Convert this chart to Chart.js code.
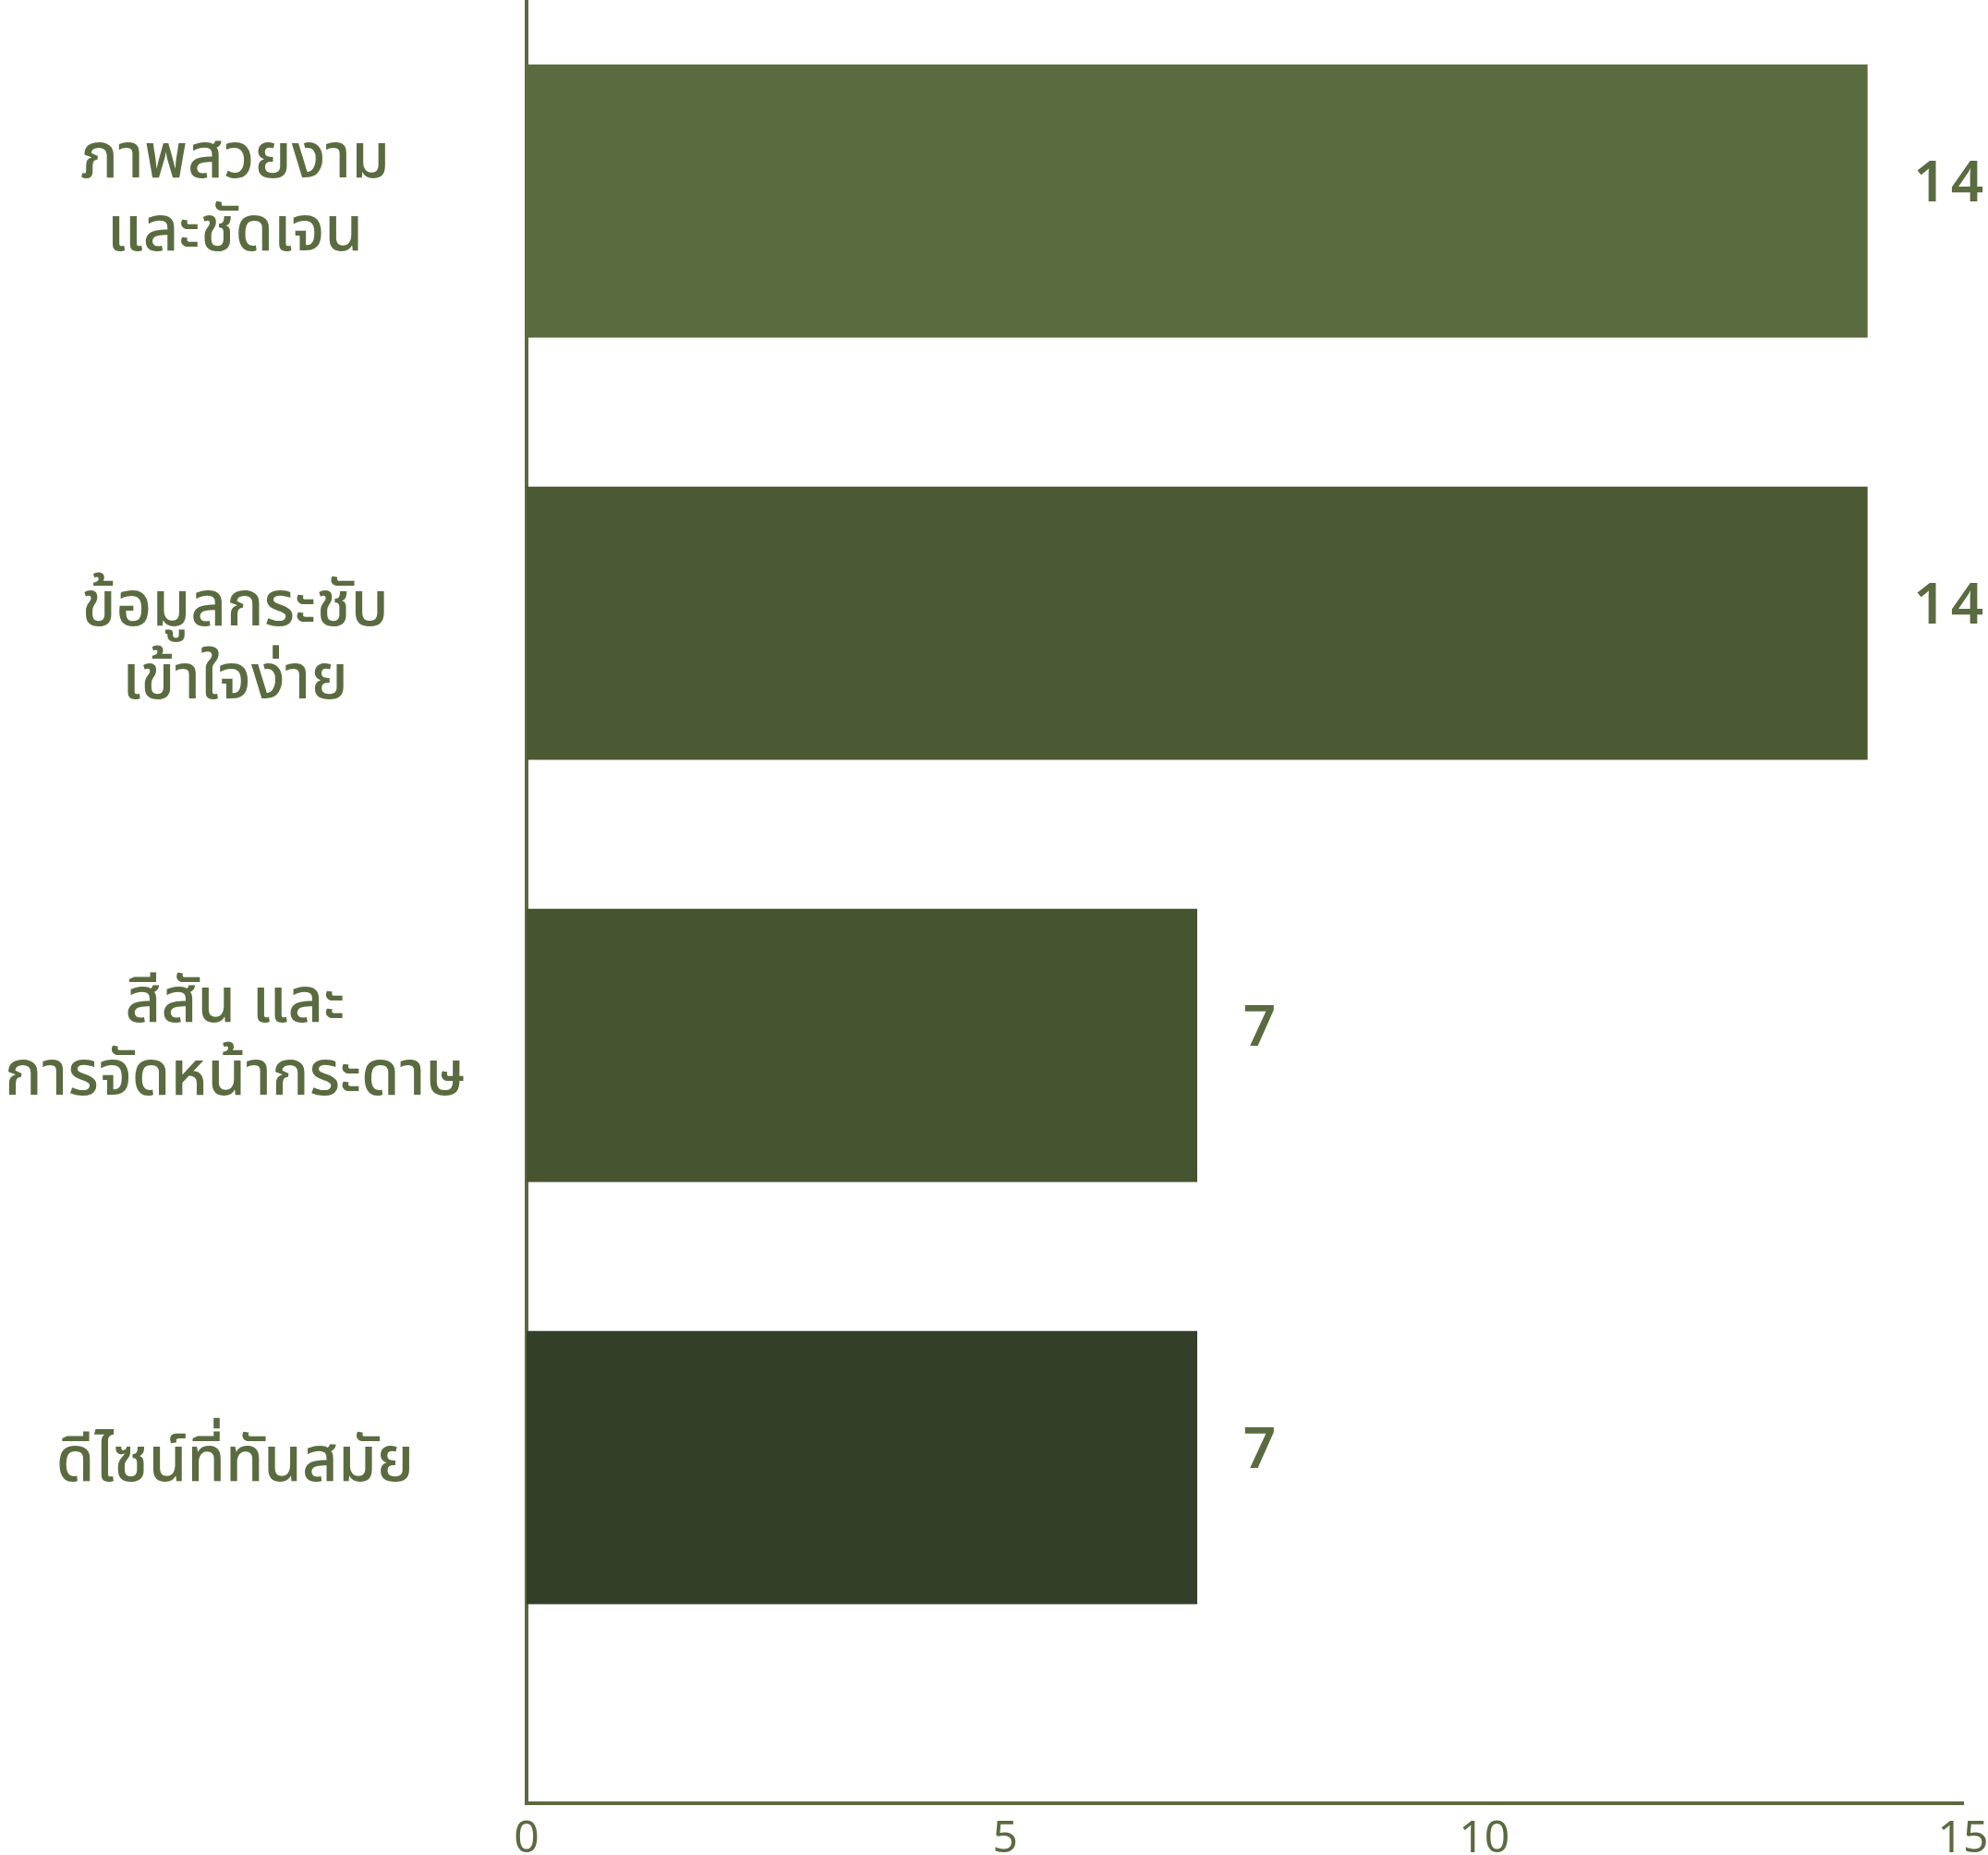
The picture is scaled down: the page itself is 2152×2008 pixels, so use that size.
<!DOCTYPE html>
<html>
<head>
<meta charset="utf-8">
<script src="https://cdn.jsdelivr.net/npm/chart.js@4.4.1/dist/chart.umd.min.js"></script>
<style>
  html, body { margin: 0; padding: 0; background: #ffffff; }
  #wrap { width: 2152px; height: 2008px; }
</style>
</head>
<body>
<div id="wrap"><canvas id="chart" width="2152" height="2008"></canvas></div>
<script>
// --- DATA ---
const categories = [
    ['ภาพสวยงาม', 'และชัดเจน'],
    ['ข้อมูลกระชับ', 'เข้าใจง่าย'],
    ['สีสัน และ', 'การจัดหน้ากระดาษ'],
    ['ดีไซน์ที่ทันสมัย']
];
const votes = [14, 14, 7, 7];
const xTicks = [0, 5, 10, 15];

// --- STYLE ---
const barColors = ['#5a6b40', '#4b5a32', '#45532f', '#333f29'];
const labelShift = [0, 0.06, 0, 0];   // small nudge of the category text, in bands
const ink = '#5a6b40';
const FONT = "'Noto Sans', 'Noto Sans Thai', sans-serif";

// value labels to the right of each bar
const valueLabels = {
    id: 'valueLabels',
    afterDatasetsDraw(chart) {
        const ctx = chart.ctx;
        const xScale = chart.scales.x;
        const meta = chart.getDatasetMeta(0);
        ctx.save();
        ctx.fillStyle = ink;
        ctx.font = `600 62px ${FONT}`;
        ctx.textAlign = 'left';
        ctx.textBaseline = 'middle';
        ctx.letterSpacing = '5px';
        meta.data.forEach((bar, i) => {
            const x = xScale.getPixelForValue(votes[i]) + 50;
            ctx.fillText(String(votes[i]), x, bar.y - 17);
        });
        ctx.restore();
    }
};

new Chart(document.getElementById('chart'), {
    type: 'bar',
    data: {
        datasets: [{
            data: votes.map((v, i) => ({ x: v, y: i })),
            backgroundColor: barColors,
            borderWidth: 0,
            barThickness: 295
        }]
    },
    options: {
        indexAxis: 'y',
        responsive: false,
        devicePixelRatio: 1,
        animation: false,
        layout: { padding: { top: 0, right: 27, bottom: 0, left: 0 } },
        plugins: {
            legend: { display: false },
            tooltip: { enabled: false }
        },
        scales: {
            x: {
                type: 'linear',
                min: 0,
                max: 15,
                grid: { display: false, drawTicks: false },
                border: { display: true, color: ink, width: 4 },
                afterBuildTicks: (scale) => { scale.ticks = xTicks.map(v => ({ value: v })); },
                afterFit: (scale) => {
                    scale.height = 56;
                    scale.paddingLeft = 0;
                    scale.paddingRight = 0;
                },
                ticks: {
                    color: ink,
                    font: { family: FONT, size: 48 },
                    padding: 11
                }
            },
            y: {
                type: 'linear',
                offset: false,
                reverse: true,
                min: -0.476,
                max: 3.795,
                grid: { display: false, drawTicks: false, offset: false },
                border: { display: true, color: ink, width: 4 },
                afterBuildTicks: (scale) => {
                    scale.ticks = categories.map((c, i) => ({ value: i + labelShift[i] }));
                },
                afterFit: (scale) => {
                    scale.width = 570;
                    scale.paddingTop = 0;
                    scale.paddingBottom = 0;
                },
                ticks: {
                    color: ink,
                    crossAlign: 'center',
                    padding: 66,
                    labelOffset: -5,
                    font: { family: FONT, size: 67, weight: 500, lineHeight: '79px' },
                    callback: (value, index) => categories[index]
                }
            }
        }
    },
    plugins: [valueLabels]
});
</script>
</body>
</html>
